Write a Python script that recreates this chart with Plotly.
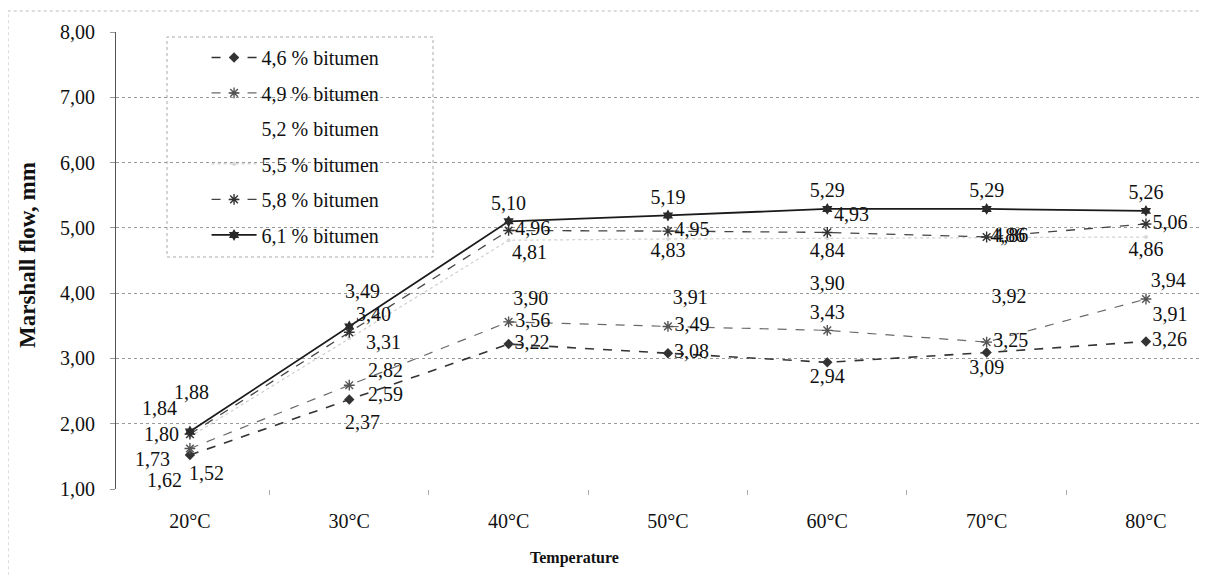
import plotly.graph_objects as go

temps = ["20°C", "30°C", "40°C", "50°C", "60°C", "70°C", "80°C"]
series_names = ["4,6 % bitumen", "4,9 % bitumen", "5,2 % bitumen",
                "5,5 % bitumen", "5,8 % bitumen", "6,1 % bitumen"]
b46 = [1.52, 2.37, 3.22, 3.08, 2.94, 3.09, 3.26]
b49 = [1.62, 2.59, 3.56, 3.49, 3.43, 3.25, 3.91]
b52 = [1.73, 2.82, 3.90, 3.91, 3.90, 3.92, 3.94]
b55 = [1.80, 3.31, 4.81, 4.83, 4.84, 4.86, 4.86]
b58 = [1.84, 3.40, 4.96, 4.95, 4.93, 4.86, 5.06]
b61 = [1.88, 3.49, 5.10, 5.19, 5.29, 5.29, 5.26]
y_ticks = [1, 2, 3, 4, 5, 6, 7, 8]

# label placement (styles)
pos46 = ["bottom right", "bottom center", "middle right", "middle right", "bottom center", "bottom center", "middle right"]
pos49 = ["bottom left", "middle right", "middle right", "middle right", "top center", "middle right", "bottom right"]
pos52 = ["bottom left", "middle right", "middle right", "middle right", "top center", "middle right", "top right"]
pos55 = ["middle left", "bottom right", "bottom right", "bottom center", "bottom center", "middle right", "bottom center"]
pos58 = ["top left", "top right", "middle right", "middle right", "top right", "middle right", "middle right"]
pos61 = ["top center"] * 7
# crowded labels placed with pixel offsets: (series index, point index) -> (xshift, yshift)
label_shift = {
    (0, 0): (17, -18), (1, 0): (-25, -31), (2, 0): (-37, -18),
    (3, 0): (-28, 3), (4, 0): (-30, 26), (5, 0): (2, 40),
    (5, 1): (13, 35), (3, 1): (34, -4), (2, 1): (36, 0),
    (1, 1): (36, -9), (0, 1): (13, -22),
}

FONT = "Liberation Serif, Times New Roman, serif"
LBL = 20

styles = [
    dict(vals=b46, pos=pos46, line=dict(color="#333", width=1.6, dash="dash"),
         marker=dict(symbol="diamond", size=8, color="#333")),
    dict(vals=b49, pos=pos49, line=dict(color="#6a6a6a", width=1.2, dash="dash"),
         marker=dict(symbol="asterisk-open", size=9, color="#555", line=dict(color="#555", width=1.4))),
    dict(vals=b52, pos=pos52, line=dict(color="rgba(255,255,255,0)", width=1),
         marker=dict(symbol="circle", size=6, color="rgba(255,255,255,0)")),
    dict(vals=b55, pos=pos55, line=dict(color="#cfcfcf", width=1.2, dash="dot"),
         marker=dict(symbol="circle", size=4, color="#d8d8d8")),
    dict(vals=b58, pos=pos58, line=dict(color="#444", width=1.3, dash="dash"),
         marker=dict(symbol="asterisk-open", size=9, color="#333", line=dict(color="#333", width=1.4))),
    dict(vals=b61, pos=pos61, line=dict(color="#1a1a1a", width=1.8),
         marker=dict(symbol="hexagram", size=9, color="#2a2a2a")),
]

fig = go.Figure()
annotations = []
for i, (name, st) in enumerate(zip(series_names, styles)):
    labels = [f"{v:.2f}".replace(".", ",") for v in st["vals"]]
    shown = ["" if (i, j) in label_shift else t for j, t in enumerate(labels)]
    fig.add_trace(go.Scatter(
        x=temps, y=st["vals"], name=name, mode="lines+markers+text",
        line=st["line"], marker=st["marker"],
        text=shown, textposition=st["pos"],
        textfont=dict(family=FONT, size=LBL, color="#111"),
        legendgroup=f"g{i}", cliponaxis=False,
    ))
    for j in range(len(temps)):
        if (i, j) in label_shift:
            dx, dy = label_shift[(i, j)]
            annotations.append(dict(
                x=temps[j], y=st["vals"][j], xref="x", yref="y", text=labels[j],
                showarrow=False, xshift=dx, yshift=dy,
                font=dict(family=FONT, size=LBL, color="#111")))

annotations += [
    dict(text="<b>Marshall flow, mm</b>", xref="paper", yref="paper",
         x=(28 - 116) / 1091, y=(489 - 255) / 457, textangle=-90,
         showarrow=False, xanchor="center", yanchor="middle",
         font=dict(family=FONT, size=23, color="#111")),
    dict(text="<b>Temperature</b>", xref="paper", yref="paper",
         x=(574 - 116) / 1091, y=(489 - 558) / 457,
         showarrow=False, xanchor="center", yanchor="middle",
         font=dict(family=FONT, size=16, color="#111")),
]

fig.update_layout(
    width=1199, height=567,
    margin=dict(l=108, r=0, t=24, b=86),
    paper_bgcolor="white", plot_bgcolor="white",
    separators=", ",
    font=dict(family=FONT, size=19, color="#111"),
    showlegend=True,
    legend=dict(x=0.083, y=0.987, xanchor="left", yanchor="top",
                bgcolor="rgba(0,0,0,0)", borderwidth=0,
                font=dict(family=FONT, size=20, color="#111"),
                traceorder="grouped", tracegroupgap=6.5, itemwidth=45),
    xaxis=dict(type="category", range=[-0.464, 6.383], showgrid=False,
               showline=False, ticks="outside", tickson="boundaries",
               ticklen=5, tickcolor="#aaa", ticklabelstandoff=18,
               tickfont=dict(family=FONT, size=20, color="#111")),
    yaxis=dict(range=[1, 8], tickvals=y_ticks, tickformat=".2f",
               showgrid=True, gridcolor="#9a9a9a", griddash="dot", gridwidth=1,
               showline=True, linecolor="#555", linewidth=1,
               ticks="outside", ticklen=5, tickcolor="#999",
               ticklabelstandoff=11, zeroline=False,
               tickfont=dict(family=FONT, size=20, color="#111")),
    shapes=[
        dict(type="rect", xref="paper", yref="paper",
             x0=(167 - 116) / 1091, x1=(433 - 116) / 1091,
             y0=(489 - 257) / 457, y1=(489 - 37) / 457,
             fillcolor="white", line=dict(color="#aaa", width=1, dash="dot"),
             layer="between"),
        dict(type="rect", xref="paper", yref="paper",
             x0=(8 - 116) / 1091, x1=1.02,
             y0=-0.3, y1=(489 - 11) / 457,
             fillcolor="rgba(0,0,0,0)", line=dict(color="#bbb", width=1, dash="dot"),
             layer="below"),
    ],
    annotations=annotations,
)

fig.write_html("out.html")
